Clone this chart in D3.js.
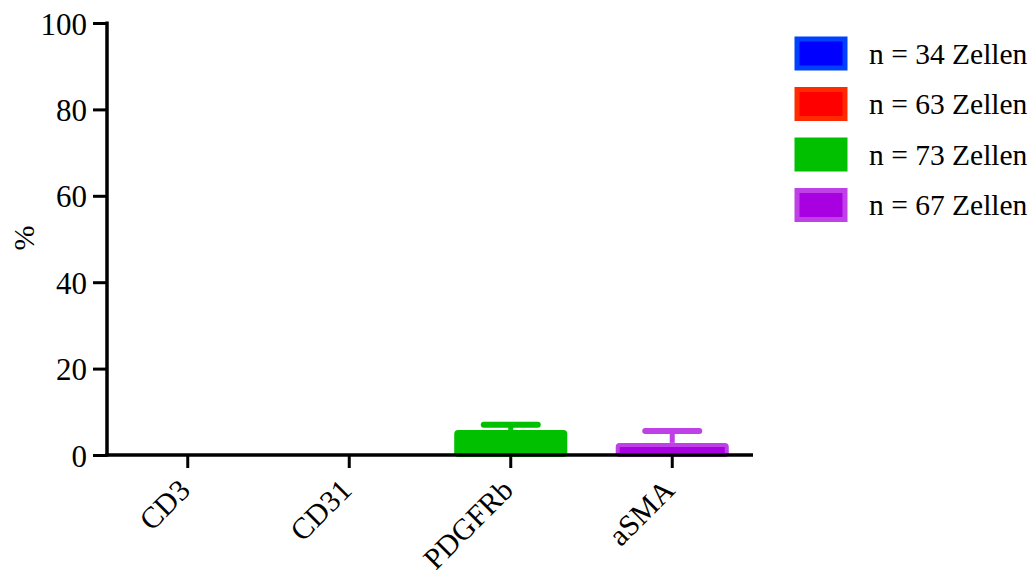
<!DOCTYPE html>
<html><head><meta charset="utf-8">
<script src="https://cdn.jsdelivr.net/npm/d3@7"></script>
<style>body{margin:0;background:#fff}svg{display:block}</style>
</head><body><svg id="c" width="1032" height="575" font-family="Liberation Serif"></svg>
<script>
const categories = ["CD3", "CD31", "PDGFRb", "aSMA"];
const means = [0, 0, 5.8, 2.8];
const errors = [0, 0, 1.2, 2.75];
const legendLabels = ["n = 34 Zellen", "n = 63 Zellen", "n = 73 Zellen", "n = 67 Zellen"];
const fills = ["#0000ff", "#ff0000", "#00c000", "#a800e0"];
const strokes = ["#0040ff", "#ff2a00", "#00c000", "#c040e8"];
const yTicks = [0, 20, 40, 60, 80, 100];
const FONT = "Liberation Serif";

const svg = d3.select("#c");
const x = d3.scaleBand().domain(categories).range([107, 753]).paddingInner(0.3).paddingOuter(0.15);
const y = d3.scaleLinear().domain([0, 100]).range([455, 23]);

// bars
categories.forEach((c, i) => {
  if (means[i] <= 0) return;
  const bw = x.bandwidth();
  const x0 = x(c) + 2, w = bw - 4;
  svg.append("rect").attr("x", x0).attr("y", y(means[i]) + 2)
    .attr("width", w).attr("height", y(0) - y(means[i]) - 2)
    .attr("fill", fills[i]).attr("stroke", strokes[i]).attr("stroke-width", 4).attr("stroke-linejoin", "round").attr("rx", 2);
  const cx = x(c) + bw / 2;
  const top = y(means[i] + errors[i]);
  svg.append("line").attr("x1", cx).attr("x2", cx).attr("y1", y(means[i])).attr("y2", top)
    .attr("stroke", strokes[i]).attr("stroke-width", 5);
  svg.append("line").attr("x1", cx - 27).attr("x2", cx + 27).attr("y1", top).attr("y2", top)
    .attr("stroke", strokes[i]).attr("stroke-width", 6).attr("stroke-linecap", "round");
});

// y axis
const ya = svg.append("g").attr("transform", "translate(107,0)")
  .call(d3.axisLeft(y).tickValues(yTicks).tickSize(14).tickPadding(6));
ya.attr("font-family", FONT).attr("font-size", 31);
ya.select(".domain").attr("stroke", "#000").attr("stroke-width", 3.5).attr("d", `M0,${y(100)-1.5}V${y(0)+1.5}`);
ya.selectAll(".tick line").attr("stroke", "#000").attr("stroke-width", 3);
ya.selectAll(".tick text").attr("font-family", FONT).attr("font-size", 31).attr("fill", "#000").attr("dy", "0.36em");

// x axis
const xa = svg.append("g").attr("transform", `translate(0,${y(0)})`)
  .call(d3.axisBottom(x).tickSize(13).tickPadding(8).tickSizeOuter(0));
xa.attr("font-family", FONT).attr("font-size", 30);
xa.select(".domain").attr("stroke", "#000").attr("stroke-width", 3.5).attr("d", "M105.3,0H753");
xa.selectAll(".tick line").attr("stroke", "#000").attr("stroke-width", 3);
xa.selectAll(".tick text").attr("font-family", FONT).attr("font-size", 30).attr("fill", "#000")
  .attr("x", 0).attr("y", 0).attr("dy", 0)
  .attr("text-anchor", "end").attr("transform", "translate(4,37) rotate(-45)");

// y label
svg.append("text").attr("transform", "translate(34,238) rotate(-90)").attr("text-anchor", "middle")
  .attr("font-family", FONT).attr("font-size", 30).text("%");

// legend
legendLabels.forEach((l, i) => {
  const gy = 37 + i * 50.5;
  svg.append("rect").attr("x", 797).attr("y", gy + 2).attr("width", 48).attr("height", 29)
    .attr("fill", fills[i]).attr("stroke", strokes[i]).attr("stroke-width", 5);
  svg.append("text").attr("x", 869).attr("y", gy + 16.5).attr("dy", "0.34em")
    .attr("font-family", FONT).attr("font-size", 29.5).text(l);
});
</script></body></html>
